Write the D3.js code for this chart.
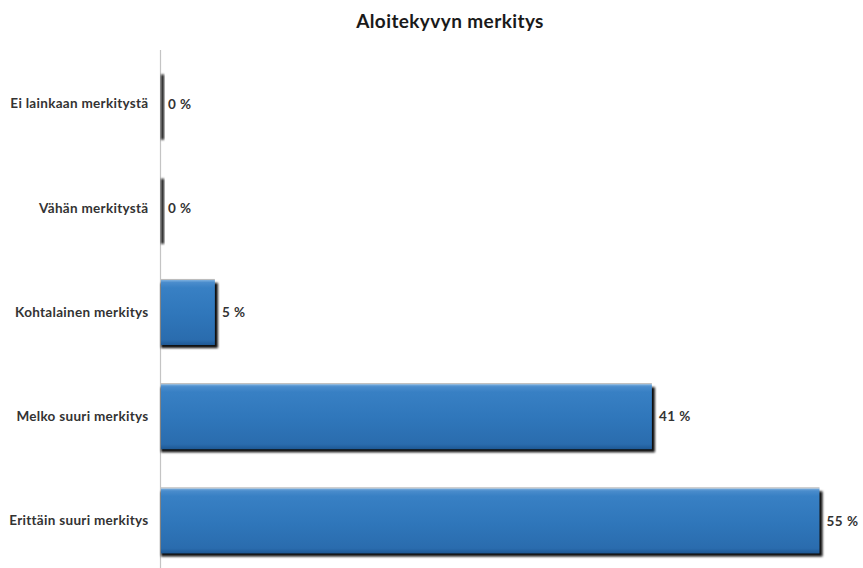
<!DOCTYPE html>
<html>
<head>
<meta charset="utf-8">
<script src="https://cdn.jsdelivr.net/npm/d3@7/dist/d3.min.js"></script>
<style>
  html, body { margin: 0; padding: 0; background: #fff; }
  svg { display: block; }
</style>
</head>
<body>
<svg id="chart" width="863" height="568"></svg>
<script>
const chartTitle = "Aloitekyvyn merkitys";
const categories = ["Ei lainkaan merkitystä", "Vähän merkitystä", "Kohtalainen merkitys", "Melko suuri merkitys", "Erittäin suuri merkitys"];
const values = [0, 0, 4.5, 41, 55];
const valueLabels = ["0 %", "0 %", "5 %", "41 %", "55 %"];

const svg = d3.select("#chart");
const W = 863, H = 568;

const x = d3.scaleLinear().domain([0, 55]).range([161, 819.5]);
const y = d3.scaleBand().domain(categories).range([52, 573]).paddingInner(0.375).paddingOuter(0.1875);

const defs = svg.append("defs");
const grad = defs.append("linearGradient").attr("id", "barGrad").attr("x1", 0).attr("y1", 0).attr("x2", 0).attr("y2", 1);
[["0%", "#7fb1e0"], ["4%", "#4a8ccc"], ["12%", "#3880c4"], ["55%", "#2f76ba"], ["92%", "#2a6cae"], ["100%", "#1e5894"]]
  .forEach(([o, c]) => grad.append("stop").attr("offset", o).attr("stop-color", c));
const blur = defs.append("filter").attr("id", "shadowBlur").attr("x", "-10%").attr("y", "-10%").attr("width", "120%").attr("height", "130%");
blur.append("feGaussianBlur").attr("stdDeviation", 0.8);

// title
svg.append("text")
  .attr("x", 450).attr("y", 28)
  .attr("text-anchor", "middle")
  .attr("font-family", "Lato, 'Open Sans', sans-serif")
  .attr("font-weight", "bold")
  .attr("font-size", 19)
  .attr("letter-spacing", 0.4)
  .attr("fill", "#1a1a1a")
  .text(chartTitle);

// axis line
const yAxis = d3.axisLeft(y).tickSize(0).tickPadding(12);
const gAxis = svg.append("g").attr("transform", "translate(160.5,0)").call(yAxis);
gAxis.select(".domain").attr("d", "M0,50V568").attr("stroke", "#c4c4c4").attr("stroke-width", 1.2);
gAxis.selectAll(".tick text")
  .attr("font-family", "Lato, 'Open Sans', sans-serif")
  .attr("font-weight", "bold")
  .attr("font-size", 13.5)
  .attr("letter-spacing", 0.3)
  .attr("fill", "#333");

const rows = categories.map((c, i) => ({ c, v: values[i], label: valueLabels[i] }));
const g = svg.append("g");

// shadows
g.selectAll("rect.shadow").data(rows).join("rect")
  .attr("class", "shadow")
  .attr("x", x(0))
  .attr("y", d => y(d.c) + 3)
  .attr("width", d => x(d.v) - x(0) + 3)
  .attr("height", y.bandwidth())
  .attr("fill", "#0a0a0a")
  .attr("filter", "url(#shadowBlur)");

// bars
g.selectAll("rect.bar").data(rows).join("rect")
  .attr("class", "bar")
  .attr("x", x(0))
  .attr("y", d => y(d.c))
  .attr("width", d => x(d.v) - x(0))
  .attr("height", y.bandwidth())
  .attr("fill", "url(#barGrad)");

// top light edge
g.selectAll("line.edge").data(rows.filter(d => d.v > 0)).join("line")
  .attr("class", "edge")
  .attr("x1", x(0)).attr("x2", d => x(d.v))
  .attr("y1", d => y(d.c) - 0.5).attr("y2", d => y(d.c) - 0.5)
  .attr("stroke", "#b8b8b8").attr("stroke-width", 1);

// value labels
g.selectAll("text.val").data(rows).join("text")
  .attr("class", "val")
  .attr("x", d => x(d.v) + 7)
  .attr("y", d => y(d.c) + y.bandwidth() / 2)
  .attr("dy", "0.35em")
  .attr("font-family", "Lato, 'Open Sans', sans-serif")
  .attr("font-weight", "bold")
  .attr("font-size", 13.5)
  .attr("letter-spacing", 0.5)
  .attr("fill", "#333")
  .text(d => d.label);
</script>
</body>
</html>
